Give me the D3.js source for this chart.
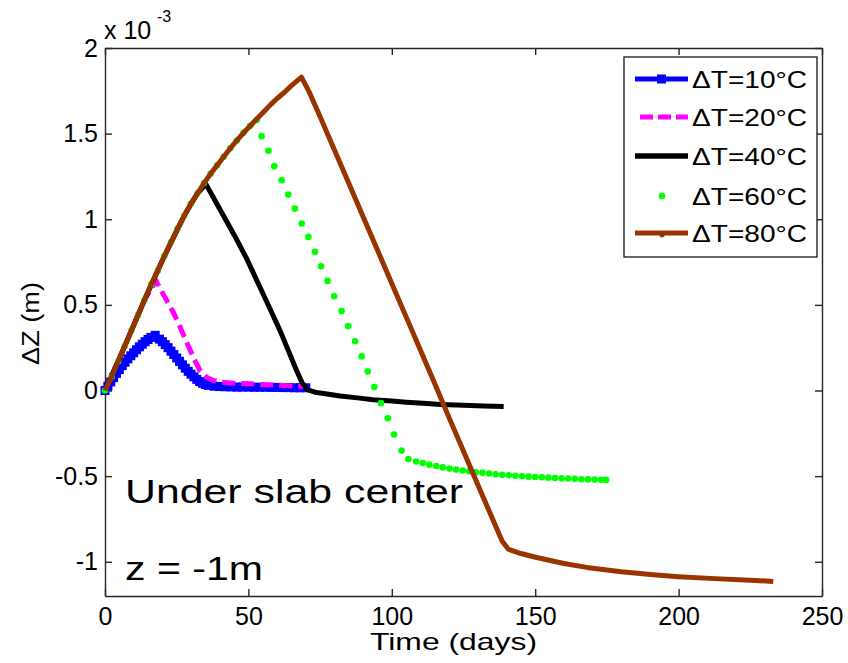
<!DOCTYPE html>
<html>
<head>
<meta charset="utf-8">
<script src="https://cdn.jsdelivr.net/npm/d3@7"></script>
<style>
  body { margin: 0; background: #fff; }
  svg text { font-family: Arial, "Liberation Sans", sans-serif; fill: #000; }
</style>
</head>
<body>
<div id="chart"></div>
<script>
// datos (ΔZ en unidades de 1e-3 m, tiempo en días)
const xTicks = [0, 50, 100, 150, 200, 250];
const yTicks = [-1, -0.5, 0, 0.5, 1, 1.5, 2];
const yTickLabels = ["-1", "-0.5", "0", "0.5", "1", "1.5", "2"];
const seriesNames = ["\u0394T=10\u00b0C", "\u0394T=20\u00b0C", "\u0394T=40\u00b0C", "\u0394T=60\u00b0C", "\u0394T=80\u00b0C"];

const dT10 = [
  [0, 0], [1, 0.025], [2, 0.05], [3, 0.075], [4, 0.1], [5, 0.122], [6, 0.145], [7, 0.165],
  [8, 0.185], [9, 0.203], [10, 0.22], [11, 0.238], [12, 0.255], [13, 0.27], [14, 0.285],
  [15, 0.298], [16, 0.31], [17.5, 0.322], [19, 0.3], [20, 0.285], [21, 0.268], [22, 0.25],
  [23, 0.23], [24, 0.21], [25, 0.19], [26, 0.17], [27, 0.15], [28, 0.13], [29, 0.112],
  [30, 0.095], [31, 0.08], [32, 0.065], [33, 0.052], [34, 0.042], [35, 0.035], [36, 0.03],
  [38, 0.025], [40, 0.023], [42, 0.022], [44, 0.021], [46, 0.02], [48, 0.02], [50, 0.02],
  [52, 0.019], [54, 0.019], [56, 0.019], [58, 0.018], [60, 0.018], [62, 0.017], [64, 0.017],
  [66, 0.016], [68, 0.016], [70, 0.016]
];

const dT20 = [
  [0, 0], [4.6, 0.17], [9.2, 0.35], [13.8, 0.53], [17.8, 0.64], [21.5, 0.526], [24, 0.45],
  [26.2, 0.37], [28.5, 0.28], [30.8, 0.195], [33.1, 0.117], [35.4, 0.078], [37.5, 0.06],
  [40.1, 0.049], [45, 0.043], [50.6, 0.039], [56, 0.034], [62.2, 0.029], [69.1, 0.023]
];

const dT40 = [
  [0, 0], [6.9, 0.26], [13.8, 0.53], [20.7, 0.785], [27.6, 1.02], [32.2, 1.15], [35.2, 1.205],
  [40, 1.06], [45, 0.91], [49.4, 0.77], [54, 0.604], [58, 0.46], [61, 0.351], [64, 0.23],
  [66.8, 0.117], [68.6, 0.049], [70.5, 0.005], [73.8, -0.012], [78, -0.022], [82, -0.032],
  [88, -0.043], [93.5, -0.054], [100, -0.062], [105, -0.068], [111, -0.075], [117, -0.082],
  [125, -0.086], [132, -0.09], [139, -0.093]
];

const dT60 = [
  [0, 0], [2.3, 0.08], [4.6, 0.17], [6.9, 0.26], [9.2, 0.35], [11.5, 0.44], [13.8, 0.53],
  [16.1, 0.62], [18.4, 0.7], [20.7, 0.785], [23, 0.865], [25.3, 0.945], [27.6, 1.02], [29.9, 1.09],
  [32.2, 1.15], [34.5, 1.21], [36.8, 1.265], [39.1, 1.315], [41.4, 1.365], [43.7, 1.415], [46, 1.46],
  [48.3, 1.505], [50.6, 1.545], [52.9, 1.58], [54.6, 1.485], [57, 1.4], [59, 1.31], [61.6, 1.228],
  [63.9, 1.144], [66.2, 1.062], [68.6, 0.975], [70.9, 0.897], [73.2, 0.81], [75.3, 0.725],
  [77.6, 0.64], [79.9, 0.55], [82.5, 0.464], [84.8, 0.376], [87.2, 0.288], [89.5, 0.199],
  [91.6, 0.111], [93.9, 0.02], [96.2, -0.074], [98.6, -0.162], [100.8, -0.257], [103.4, -0.351],
  [105.8, -0.4], [108.5, -0.415], [110.8, -0.424], [113.1, -0.433], [115.5, -0.441],
  [117.8, -0.449], [120.1, -0.456], [122.4, -0.462], [124.7, -0.467], [127, -0.472],
  [129.3, -0.477], [131.6, -0.481], [133.9, -0.485], [136.2, -0.489], [138.5, -0.492],
  [140.8, -0.495], [143.1, -0.498], [145.4, -0.501], [147.7, -0.503], [150, -0.505],
  [152.3, -0.507], [154.6, -0.509], [156.9, -0.511], [159.2, -0.513], [161.5, -0.514],
  [163.8, -0.516], [166.1, -0.518], [168.4, -0.519], [170.7, -0.52], [173, -0.521], [174.7, -0.522]
];

const dT80 = [
  [0, 0], [2.3, 0.08], [4.6, 0.17], [6.9, 0.26], [9.2, 0.35], [11.5, 0.44], [13.8, 0.53],
  [16.1, 0.62], [18.4, 0.7], [20.7, 0.785], [23, 0.865], [25.3, 0.945], [27.6, 1.02], [29.9, 1.09],
  [32.2, 1.15], [34.5, 1.21], [36.8, 1.265], [39.1, 1.315], [41.4, 1.365], [43.7, 1.415], [46, 1.46],
  [48.3, 1.505], [50.6, 1.545], [52.9, 1.585], [55.2, 1.625], [57.5, 1.665], [60, 1.705],
  [62.5, 1.74], [65, 1.78], [68.5, 1.83], [71, 1.75], [75.5, 1.58], [80, 1.405], [85, 1.21],
  [90, 1.015], [95, 0.82], [100, 0.625], [105, 0.43], [110, 0.235], [115, 0.04], [120, -0.16],
  [125, -0.355], [130, -0.55], [135, -0.745], [138.5, -0.88], [140.6, -0.926], [145, -0.952],
  [150.5, -0.975], [160, -1.01], [168, -1.033], [180, -1.058], [191.2, -1.076], [200, -1.087],
  [214.4, -1.1], [225, -1.108], [233, -1.115]
];

const width = 848;
const height = 663;
const margin = { left: 105, right: 26, top: 48, bottom: 67 };

const svg = d3
  .select("#chart")
  .append("svg")
  .attr("width", width)
  .attr("height", height);

const x = d3.scaleLinear().domain([0, 250]).range([margin.left, width - margin.right]);
const y = d3.scaleLinear().domain([-1.2, 2]).range([height - margin.bottom, margin.top]);

const line = d3
  .line()
  .x((d) => x(d[0]))
  .y((d) => y(d[1]));

// Ejes estilo MATLAB: caja completa, marcas hacia dentro
const axisColor = "#262626";

const gx = svg
  .append("g")
  .attr("transform", `translate(0,${y(-1.2)})`)
  .call(d3.axisBottom(x).tickValues(xTicks).tickSizeInner(-7).tickSizeOuter(0).tickPadding(11).tickFormat(d3.format("d")));

const gxTop = svg
  .append("g")
  .attr("transform", `translate(0,${y(2)})`)
  .call(d3.axisTop(x).tickValues(xTicks).tickSizeInner(-7).tickSizeOuter(0).tickFormat(""));

const gy = svg
  .append("g")
  .attr("transform", `translate(${x(0)},0)`)
  .call(
    d3.axisLeft(y)
      .tickValues(yTicks)
      .tickSizeInner(-7)
      .tickSizeOuter(0)
      .tickPadding(7)
      .tickFormat((d, i) => yTickLabels[i])
  );

const gyRight = svg
  .append("g")
  .attr("transform", `translate(${x(250)},0)`)
  .call(d3.axisRight(y).tickValues(yTicks).tickSizeInner(-7).tickSizeOuter(0).tickFormat(""));

[gx, gxTop, gy, gyRight].forEach((g) => {
  g.selectAll("path.domain").attr("stroke", axisColor).attr("stroke-width", 1.4);
  g.selectAll(".tick line").attr("stroke", axisColor).attr("stroke-width", 1.4);
  g.selectAll("text")
    .attr("font-family", 'Arial, "Liberation Sans", sans-serif')
    .attr("font-size", 25)
    .attr("fill", "#000");
});

// factor de escala x 10^-3
const expo = svg.append("text").attr("x", 104).attr("y", 39).attr("font-size", 25);
expo.append("tspan").text("x 10");
expo.append("tspan").attr("x", 157).attr("y", 22).attr("font-size", 16).text("-3");

// Etiquetas de ejes
svg
  .append("text")
  .attr("x", 370)
  .attr("y", 650)
  .attr("font-size", 24)
  .attr("textLength", 167)
  .attr("lengthAdjust", "spacingAndGlyphs")
  .text("Time (days)");

svg
  .append("text")
  .attr("transform", "translate(39,365) rotate(-90)")
  .attr("font-size", 23)
  .attr("textLength", 83)
  .attr("lengthAdjust", "spacingAndGlyphs")
  .text("\u0394Z (m)");

// Series (de abajo hacia arriba)
const plot = svg.append("g");

plot
  .append("path")
  .datum(dT10)
  .attr("d", line)
  .attr("fill", "none")
  .attr("stroke", "#0000ff")
  .attr("stroke-width", 5);

plot
  .selectAll("rect.m10")
  .data(dT10)
  .enter()
  .append("rect")
  .attr("class", "m10")
  .attr("x", (d) => x(d[0]) - 4.5)
  .attr("y", (d) => y(d[1]) - 4.5)
  .attr("width", 9)
  .attr("height", 9)
  .attr("fill", "#0000ff");

plot
  .append("path")
  .datum(dT20)
  .attr("d", line)
  .attr("fill", "none")
  .attr("stroke", "#ff00ff")
  .attr("stroke-width", 5)
  .attr("stroke-dasharray", "13,6");

plot
  .append("path")
  .datum(dT40)
  .attr("d", line)
  .attr("fill", "none")
  .attr("stroke", "#000")
  .attr("stroke-width", 5)
  .attr("stroke-linejoin", "round");

plot
  .selectAll("circle.m60")
  .data(dT60)
  .enter()
  .append("circle")
  .attr("class", "m60")
  .attr("cx", (d) => x(d[0]))
  .attr("cy", (d) => y(d[1]))
  .attr("r", 3.3)
  .attr("fill", "#00ff00");

plot
  .append("path")
  .datum(dT80)
  .attr("d", line)
  .attr("fill", "none")
  .attr("stroke", "#993300")
  .attr("stroke-width", 5)
  .attr("stroke-linejoin", "round");

// Textos de anotación
svg
  .append("text")
  .attr("x", 125)
  .attr("y", 503)
  .attr("font-family", '"DejaVu Sans", sans-serif')
  .attr("font-size", 34)
  .attr("textLength", 338)
  .attr("lengthAdjust", "spacingAndGlyphs")
  .text("Under slab center");

svg
  .append("text")
  .attr("x", 125)
  .attr("y", 580)
  .attr("font-family", '"DejaVu Sans", sans-serif')
  .attr("font-size", 34)
  .attr("textLength", 138)
  .attr("lengthAdjust", "spacingAndGlyphs")
  .text("z = -1m");

// Leyenda
const legend = svg.append("g");
legend
  .append("rect")
  .attr("x", 624)
  .attr("y", 57)
  .attr("width", 193)
  .attr("height", 200)
  .attr("fill", "#fff")
  .attr("stroke", axisColor)
  .attr("stroke-width", 1.4);

const rowY = [79, 117, 156, 196, 233];

rowY.forEach((cy, i) => {
  const g = legend.append("g");
  if (i === 0) {
    g.append("line").attr("x1", 635).attr("x2", 688).attr("y1", cy).attr("y2", cy)
      .attr("stroke", "#0000ff").attr("stroke-width", 5);
    g.append("rect").attr("x", 657).attr("y", cy - 4.5).attr("width", 9).attr("height", 9).attr("fill", "#0000ff");
  } else if (i === 1) {
    g.append("line").attr("x1", 640).attr("x2", 688).attr("y1", cy).attr("y2", cy)
      .attr("stroke", "#ff00ff").attr("stroke-width", 5).attr("stroke-dasharray", "13,5");
  } else if (i === 2) {
    g.append("line").attr("x1", 635).attr("x2", 688).attr("y1", cy).attr("y2", cy)
      .attr("stroke", "#000").attr("stroke-width", 5.5);
  } else if (i === 3) {
    g.append("circle").attr("cx", 662).attr("cy", cy).attr("r", 3.3).attr("fill", "#00ff00");
  } else {
    g.append("line").attr("x1", 635).attr("x2", 688).attr("y1", cy).attr("y2", cy)
      .attr("stroke", "#993300").attr("stroke-width", 5);
    g.append("circle").attr("cx", 662).attr("cy", cy + 2).attr("r", 2.5).attr("fill", "#993300");
  }
  g.append("text")
    .attr("x", 692)
    .attr("y", cy + 9)
    .attr("font-size", 24)
    .attr("textLength", 115)
    .attr("lengthAdjust", "spacingAndGlyphs")
    .text(seriesNames[i]);
});
</script>
</body>
</html>
